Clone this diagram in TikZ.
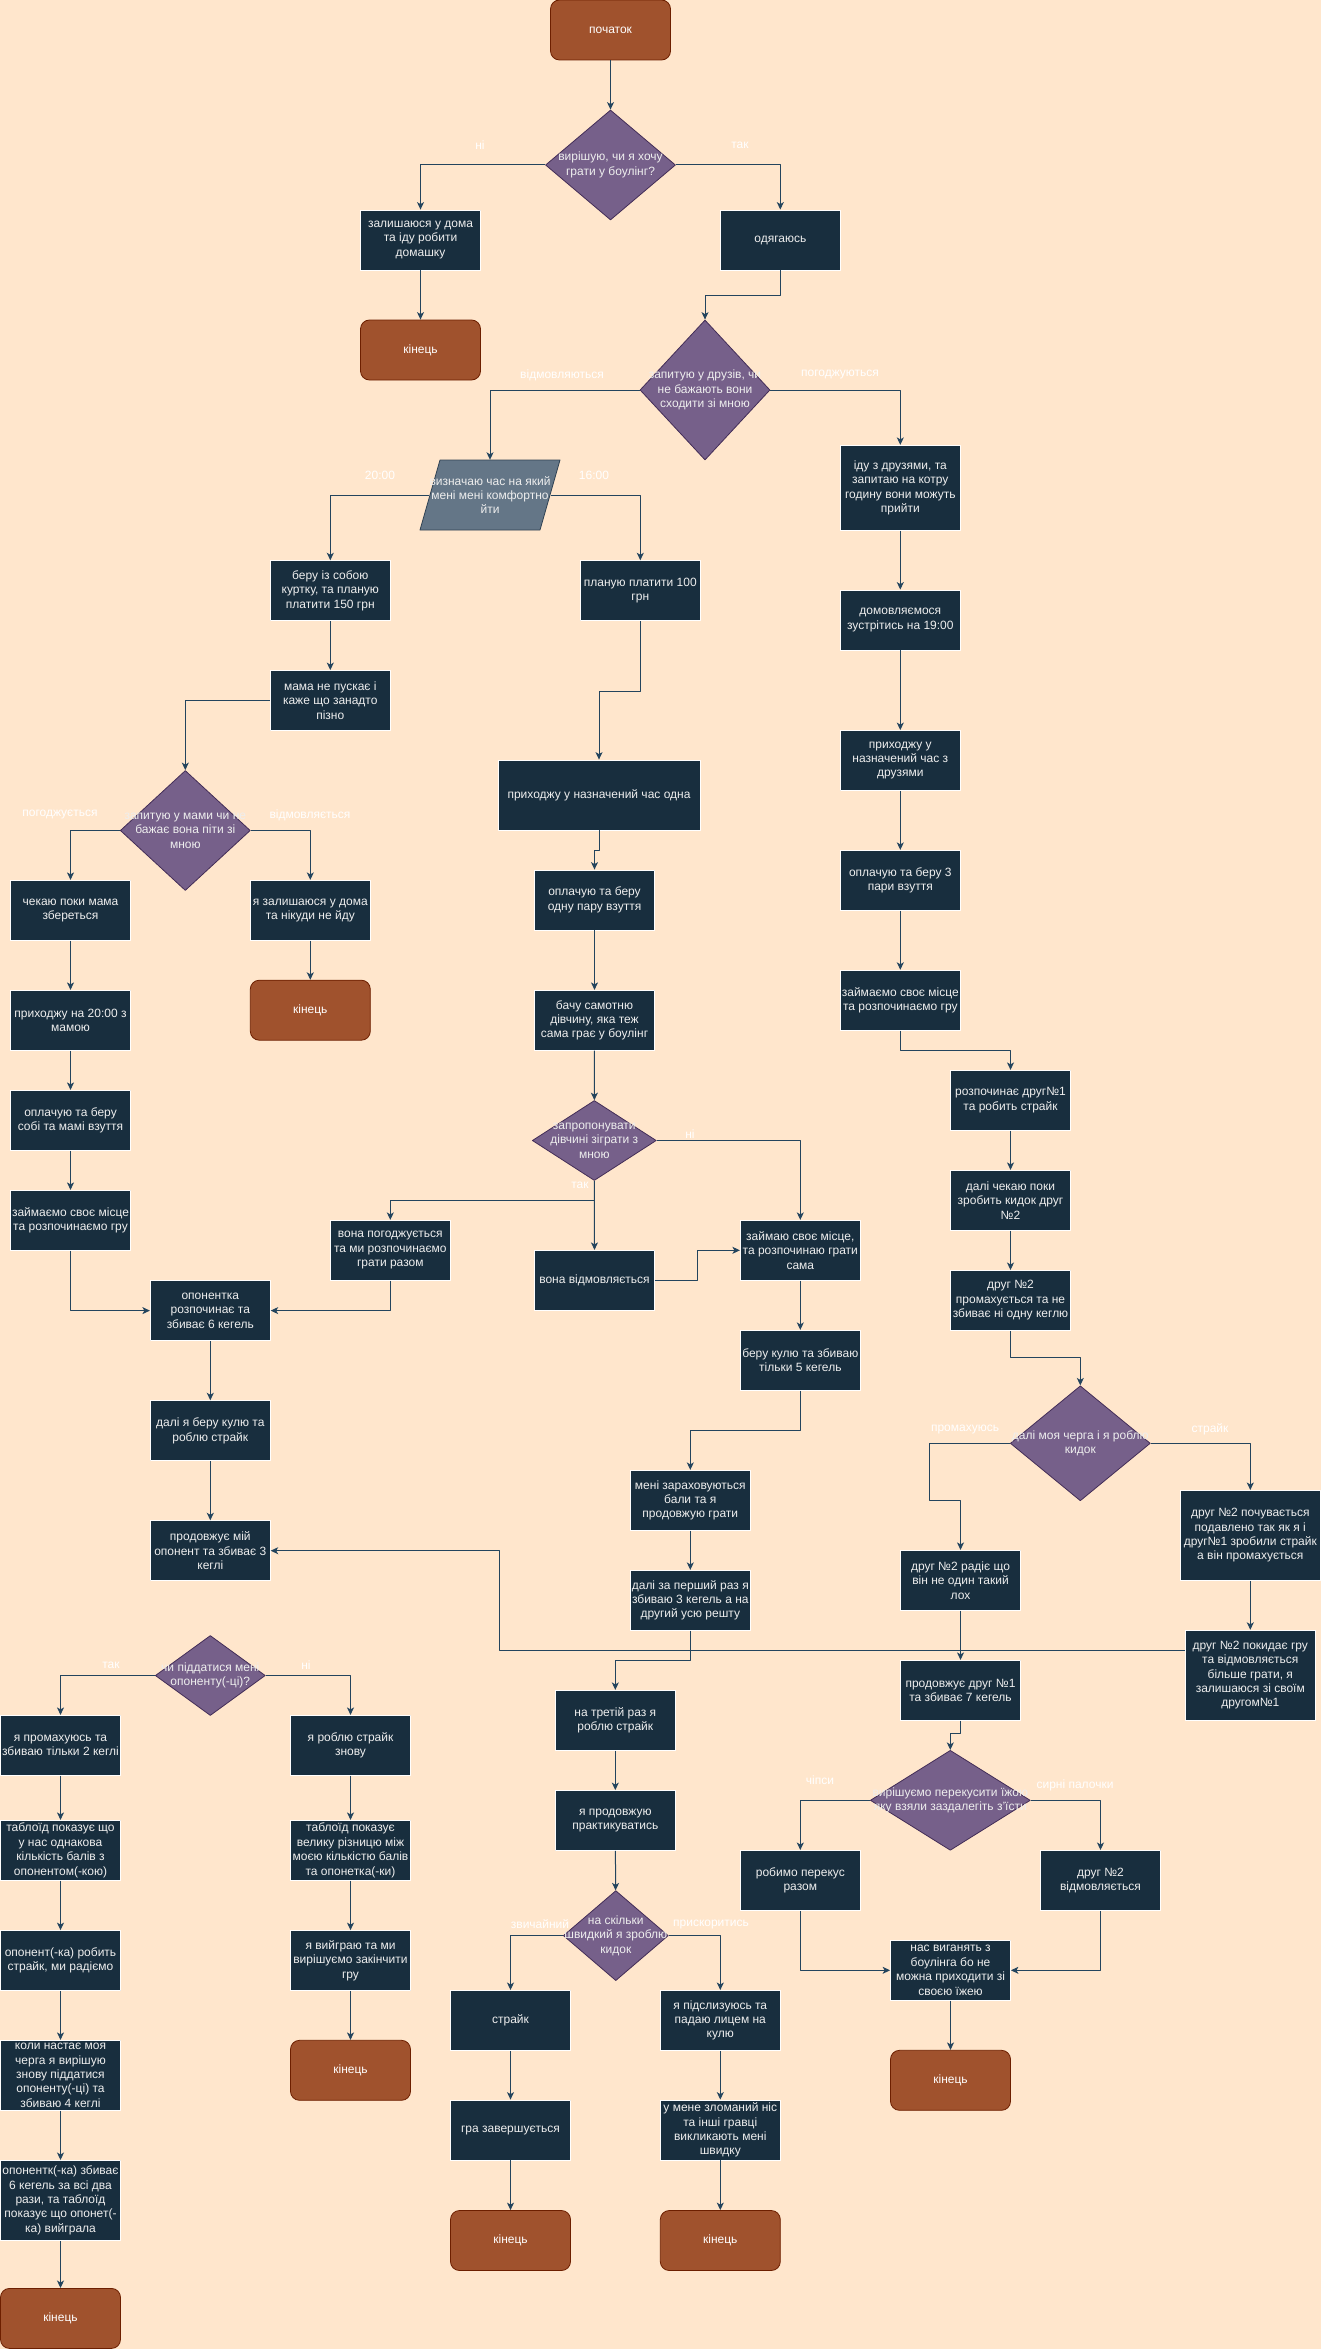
\documentclass[tikz,border=0pt]{standalone}
\usepackage{fontspec}
\setmainfont{Liberation Sans}
\usetikzlibrary{shapes.geometric,arrows.meta}
\definecolor{fonpeach}{HTML}{FFE6CC}
\definecolor{boxnavy}{HTML}{182E3E}
\definecolor{boxtext}{HTML}{EEEEEE}
\definecolor{termfill}{HTML}{A0522D}
\definecolor{termline}{HTML}{6D1F00}
\definecolor{decfill}{HTML}{76608A}
\definecolor{decline}{HTML}{432D57}
\definecolor{parafill}{HTML}{647687}
\definecolor{paraline}{HTML}{314354}
\definecolor{edgecol}{HTML}{23445D}
\begin{document}
\begin{tikzpicture}[x=1pt, y=-1pt, font=\fontsize{12}{14.4}\selectfont, line join=round,
    >={Stealth[length=7.5pt,width=7pt,inset=2pt]},
    proc/.style={rectangle, draw=white, line width=0.8pt, fill=boxnavy, text=boxtext,
        minimum width=120pt, minimum height=60pt, inner sep=1pt, align=center},
    term/.style={rectangle, rounded corners=9pt, draw=termline, line width=0.8pt, fill=termfill,
        text=white, minimum width=120pt, minimum height=60pt, align=center},
    decision/.style={diamond, draw=decline, line width=0.8pt, fill=decfill, inner sep=0pt},
    dtext/.style={text=boxtext, align=center, inner sep=0pt},
    elabel/.style={text=white, inner sep=0pt},
    flow/.style={draw=edgecol, line width=1pt, ->}]
    % Полотно
    \useasboundingbox (0,0) rectangle (1321,2349);
    \fill[fonpeach] (0,0) rectangle (1321,2349);
    % Початок і перше рішення
    \node[term] (start) at (610.5,30) {початок};
    \node[decision, minimum width=130pt, minimum height=110pt,
        label={[dtext]center:{вирішую, чи я хочу\\грати у боулінг?}}] (d1) at (610.5,165) {};
    \node[proc] (home) at (420.5,240) {залишаюся у дома\\та іду робити\\домашку};
    \node[term] (end1) at (420.5,350) {кінець};
    \node[proc] (dress) at (780.3,240) {одягаюсь};
    \node[decision, minimum width=130pt, minimum height=140pt,
        label={[dtext]center:{запитую у друзів, чи\\не бажають вони\\сходити зі мною}}] (d2) at (705,390) {};
    % Паралелограм з часом
    \filldraw[fill=parafill, draw=paraline, line width=0.8pt] (440,460) -- (560,460) -- (540,530) -- (420,530) -- cycle;
    \node[dtext, minimum width=120pt, minimum height=70pt] (para) at (490,495) {визначаю час на який\\мені мені комфортно\\йти};
    % Гілка 20:00
    \node[proc] (jacket) at (330.3,590.7) {беру із собою\\куртку, та планую\\платити 150 грн};
    \node[proc] (mama) at (330.3,700.5) {мама не пускає і\\каже що занадто\\пізно};
    \node[decision, minimum width=130pt, minimum height=120pt,
        label={[dtext]center:{запитую у мами чи не\\бажає вона піти зі\\мною}}] (d3) at (185.3,830.5) {};
    \node[proc] (wait) at (70.5,910.3) {чекаю поки мама\\збереться};
    \node[proc] (stay) at (310.3,910.3) {я залишаюся у дома\\та нікуди не йду};
    \node[term] (end2) at (310.3,1010.2) {кінець};
    \node[proc] (come20) at (70.5,1020.3) {приходжу на 20:00 з\\мамою};
    \node[proc] (pay2) at (70.5,1120.3) {оплачую та беру\\собі та мамі взуття};
    \node[proc] (seat1) at (70.5,1220.3) {займаємо своє місце\\та розпочинаємо гру};
    \node[proc] (opp6) at (210.3,1310.6) {опонентка\\розпочинає та\\збиває 6 кегель};
    \node[proc] (agree) at (390.3,1250.3) {вона погоджується\\та ми розпочинаємо\\грати разом};
    \node[proc] (strike1) at (210.3,1430.7) {далі я беру кулю та\\роблю страйк};
    \node[proc] (opp3) at (210.3,1550.7) {продовжує мій\\опонент та збиває 3\\кеглі};
    \node[decision, minimum width=110pt, minimum height=80pt,
        label={[dtext]center:{чи піддатися мені\\опоненту(-ці)?}}] (d8) at (210.3,1675.5) {};
    \node[proc] (miss2) at (60.5,1745.3) {я промахуюсь та\\збиваю тільки 2 кеглі};
    \node[proc] (strike2) at (350.5,1745.3) {я роблю страйк\\знову};
    \node[proc] (tab1) at (60.5,1850.3) {таблоїд показує що\\у нас однакова\\кількість балів з\\опонентом(-кою)};
    \node[proc] (oppstrike) at (60.5,1960.5) {опонент(-ка) робить\\страйк, ми радіємо};
    \node[proc, minimum height=70pt] (turn) at (60.5,2075.3) {коли настає моя\\черга я вирішую\\знову піддатися\\опоненту(-ці) та\\збиваю 4 кеглі};
    \node[proc, minimum height=80pt] (oppwin) at (60.5,2200.4) {опонентк(-ка) збиває\\6 кегель за всі два\\рази, та таблоїд\\показує що опонет(-\\ка) вийграла};
    \node[term] (end3) at (60.5,2318.4) {кінець};
    \node[proc] (tab2) at (350.5,1850.3) {таблоїд показує\\велику різницю між\\моєю кількістю балів\\та опонетка(-ки)};
    \node[proc] (win) at (350.5,1960.5) {я вийграю та ми\\вирішуємо закінчити\\гру};
    \node[term] (end4) at (350.5,2070.3) {кінець};
    % Гілка 16:00
    \node[proc] (pay100) at (640.3,590.7) {планую платити 100\\грн};
    \node[proc, minimum width=202pt, minimum height=70pt] (alone) at (599,795) {приходжу у назначений час одна};
    \node[proc] (pay1) at (594.5,900) {оплачую та беру\\одну пару взуття};
    \node[proc] (girl) at (594.5,1020.3) {бачу самотню\\дівчину, яка теж\\сама грає у боулінг};
    \node[decision, minimum width=124pt, minimum height=80pt,
        label={[dtext]center:{запропонувати\\дівчині зіграти з\\мною}}] (d4) at (594.3,1140.5) {};
    \node[proc] (refuse) at (594.5,1280.3) {вона відмовляється};
    \node[proc] (seat2) at (800.3,1250.3) {займаю своє місце,\\та розпочинаю грати\\сама};
    \node[proc] (ball5) at (800.3,1360.3) {беру кулю та збиваю\\тільки 5 кегель};
    \node[proc] (points) at (690.3,1500.3) {мені зараховуються\\бали та я\\продовжую грати};
    \node[proc] (first3) at (690.3,1600.3) {далі за перший раз я\\збиваю 3 кегель а на\\другий усю решту};
    \node[proc] (third) at (615.3,1720.3) {на третій раз я\\роблю страйк};
    \node[proc] (practice) at (615.3,1820.5) {я продовжую\\практикуватись};
    \node[decision, minimum width=105pt, minimum height=90pt,
        label={[dtext]center:{на скільки\\швидкий я зроблю\\кидок}}] (d7) at (615.8,1935.6) {};
    \node[proc] (strike3) at (510.5,2020.4) {страйк};
    \node[proc] (gameend) at (510.5,2130) {гра завершується};
    \node[term] (end5) at (510.5,2240.5) {кінець};
    \node[proc] (slip) at (720.3,2020.4) {я підслизуюсь та\\падаю лицем на\\кулю};
    \node[proc] (nose) at (720.3,2130) {у мене зломаний ніс\\та інші гравці\\викликають мені\\швидку};
    \node[term] (end6) at (720.3,2240.5) {кінець};
    % Гілка з друзями
    \node[proc, minimum height=85pt] (friends) at (900.3,487.8) {іду з друзями, та\\запитаю на котру\\годину вони можуть\\прийти};
    \node[proc] (meet) at (900.3,620) {домовляємося\\зустрітись на 19:00};
    \node[proc] (arrive) at (900.3,760.5) {приходжу у\\назначений час з\\друзями};
    \node[proc] (pay3) at (900.3,880.3) {оплачую та беру 3\\пари взуття};
    \node[proc] (seat3) at (900.3,1000.2) {займаємо своє місце\\та розпочинаємо гру};
    \node[proc] (f1strike) at (1010.5,1100.3) {розпочинає друг№1\\та робить страйк};
    \node[proc] (waitf2) at (1010.5,1200.3) {далі чекаю поки\\зробить кидок друг\\№2};
    \node[proc] (f2miss) at (1010.5,1300.4) {друг №2\\промахується та не\\збиває ні одну кеглю};
    \node[decision, minimum width=140pt, minimum height=115pt,
        label={[dtext]center:{далі моя черга і я роблю\\кидок}}] (d5) at (1080.3,1443.3) {};
    \node[proc] (f2glad) at (960.5,1580.3) {друг №2 радіє що\\він не один такий\\лох};
    \node[proc, minimum width=140pt, minimum height=90pt] (f2sad) at (1250.3,1535.4) {друг №2 почувається\\подавлено так як я і\\друг№1 зробили страйк\\а він промахується};
    \node[proc, minimum width=130pt, minimum height=90pt] (f2leave) at (1250.3,1675.2) {друг №2 покидає гру\\та відмовляється\\більше грати, я\\залишаюся зі своїм\\другом№1};
    \node[proc] (f1seven) at (960.5,1690.3) {продовжує друг №1\\та збиває 7 кегель};
    \node[decision, minimum width=160pt, minimum height=100pt,
        label={[dtext]center:{вирішуємо перекусити їжою\\яку взяли заздалегіть з'їсти}}] (d6) at (950.3,1800.3) {};
    \node[proc] (snack) at (800.3,1880.4) {робимо перекус\\разом};
    \node[proc] (f2no) at (1100.5,1880.4) {друг №2\\відмовляється};
    \node[proc] (kicked) at (950.5,1970.3) {нас виганять з\\боулінга бо не\\можна приходити зі\\своєю їжею};
    \node[term] (end7) at (950.5,2080.3) {кінець};
    % Стрілки: верх
    \draw[flow] (start) -- (d1);
    \draw[flow] (d1.west) -| (home.north);
    \node[elabel] (lno1) at (480,145) {ні};
    \draw[flow] (home) -- (end1);
    \draw[flow] (d1.east) -| (dress.north);
    \node[elabel] (lyes1) at (740,145) {так};
    \draw[flow] (dress.south) -- ++(0,25) -| (d2.north);
    \draw[flow] (d2.west) -| (para.north);
    \node[elabel] (lrefuse1) at (562,375) {відмовляються};
    \draw[flow] (d2.east) -| (friends.north);
    \node[elabel] (lagree1) at (840,375) {погоджуються};
    \draw[flow] (para.west) -| (jacket.north);
    \node[elabel] (l20) at (380,475) {20:00};
    \draw[flow] (para.east) -| (pay100.north);
    \node[elabel] (l16) at (594,475) {16:00};
    % Стрілки: гілка з мамою
    \draw[flow] (jacket) -- (mama);
    \draw[flow] (mama.west) -| (d3.north);
    \draw[flow] (d3.west) -| (wait.north);
    \node[elabel] (lagree2) at (60,815) {погоджується};
    \draw[flow] (d3.east) -| (stay.north);
    \node[elabel] (lrefuse2) at (310,815) {відмовляється};
    \draw[flow] (stay) -- (end2);
    \draw[flow] (wait) -- (come20);
    \draw[flow] (come20) -- (pay2);
    \draw[flow] (pay2) -- (seat1);
    \draw[flow] (seat1.south) |- (opp6.west);
    \draw[flow] (agree.south) |- (opp6.east);
    \draw[flow] (opp6) -- (strike1);
    \draw[flow] (strike1) -- (opp3);
    \draw[flow] ([yshift=25pt]f2leave.west) -- ++(-685,0) |- (opp3.east);
    \draw[flow] (d8.west) -| (miss2.north);
    \node[elabel] (lyes3) at (111,1665) {так};
    \draw[flow] (d8.east) -| (strike2.north);
    \node[elabel] (lno3) at (306,1665) {ні};
    \draw[flow] (miss2) -- (tab1);
    \draw[flow] (tab1) -- (oppstrike);
    \draw[flow] (oppstrike) -- (turn);
    \draw[flow] (turn) -- (oppwin);
    \draw[flow] (oppwin) -- (end3);
    \draw[flow] (strike2) -- (tab2);
    \draw[flow] (tab2) -- (win);
    \draw[flow] (win) -- (end4);
    % Стрілки: сама
    \draw[flow] (pay100.south) -- ++(0,70) -| (alone.north);
    \draw[flow] (alone.south) -- ++(0,20) -| (pay1.north);
    \draw[flow] (pay1) -- (girl);
    \draw[flow] (girl) -- (d4);
    \draw[flow] (d4.east) -| (seat2.north);
    \node[elabel] (lno2) at (690,1134) {ні};
    \draw[flow] (d4.south) -- ++(0,20) -| (agree.north);
    \draw[flow] (d4.south) -- (refuse.north);
    \node[elabel] (lyes2) at (580,1185) {так};
    \draw[flow] (refuse.east) -- ++(43,0) |- (seat2.west);
    \draw[flow] (seat2) -- (ball5);
    \draw[flow] (ball5.south) -- ++(0,40) -| (points.north);
    \draw[flow] (points) -- (first3);
    \draw[flow] (first3.south) -- ++(0,30) -| (third.north);
    \draw[flow] (third) -- (practice);
    \draw[flow] (practice) -- (d7);
    \draw[flow] (d7.west) -| (strike3.north);
    \node[elabel] (lusual) at (540,1924) {звичайний};
    \draw[flow] (d7.east) -| (slip.north);
    \node[elabel] (lfast) at (711,1924) {прискоритись};
    \draw[flow] (strike3) -- (gameend);
    \draw[flow] (gameend) -- (end5);
    \draw[flow] (slip) -- (nose);
    \draw[flow] (nose) -- (end6);
    % Стрілки: з друзями
    \draw[flow] (friends) -- (meet);
    \draw[flow] (meet) -- (arrive);
    \draw[flow] (arrive) -- (pay3);
    \draw[flow] (pay3) -- (seat3);
    \draw[flow] (seat3.south) -- ++(0,20) -| (f1strike.north);
    \draw[flow] (f1strike) -- (waitf2);
    \draw[flow] (waitf2) -- (f2miss);
    \draw[flow] (f2miss.south) -- ++(0,27) -| (d5.north);
    \draw[flow] (d5.west) -- ++(-80,0) -- ++(0,57.5) -| (f2glad.north);
    \node[elabel] (lmiss) at (965,1429) {промахуюсь};
    \draw[flow] (d5.east) -| (f2sad.north);
    \node[elabel] (lstrike) at (1210,1429) {страйк};
    \draw[flow] (f2sad) -- (f2leave);
    \draw[flow] (f2glad) -- (f1seven);
    \draw[flow] (f1seven.south) -- ++(0,13) -| (d6.north);
    \draw[flow] (d6.west) -| (snack.north);
    \node[elabel] (lchips) at (820,1780) {чіпси};
    \draw[flow] (d6.east) -| (f2no.north);
    \node[elabel] (lcheese) at (1075,1785) {сирні палочки};
    \draw[flow] (snack.south) |- (kicked.west);
    \draw[flow] (f2no.south) |- (kicked.east);
    \draw[flow] (kicked) -- (end7);
\end{tikzpicture}
\end{document}
